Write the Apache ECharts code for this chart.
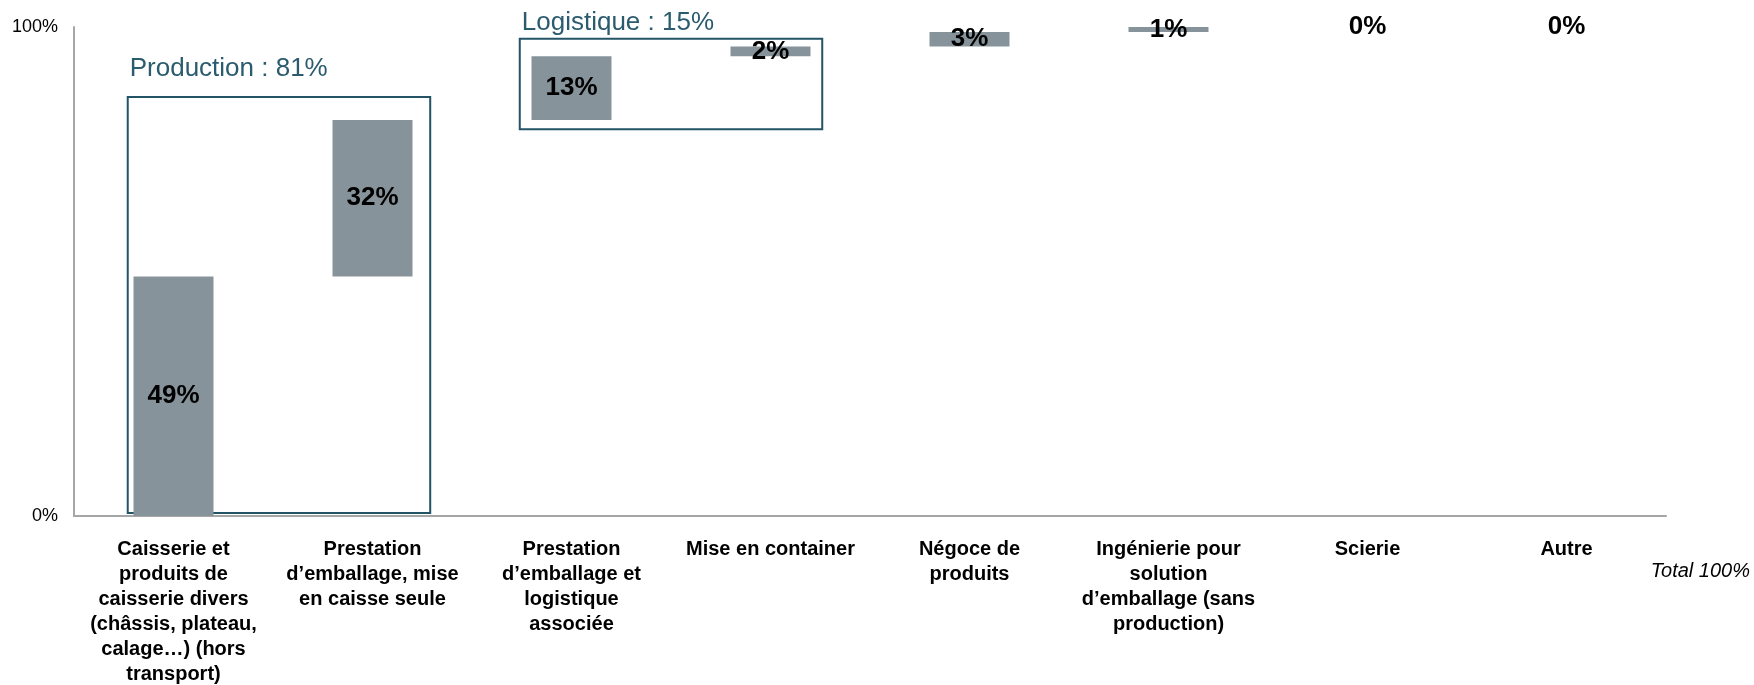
<!DOCTYPE html>
<html>
<head>
<meta charset="utf-8">
<script src="https://cdn.jsdelivr.net/npm/echarts@6/dist/echarts.min.js"></script>
<style>
  html, body { margin: 0; padding: 0; background: #fff; }
  #myChartWaterfall { width: 1754px; height: 685px; }
</style>
</head>
<body>
<div id="myChartWaterfall"></div>
<script>
  // categories (line breaks as in the slide)
  var categories = [
    'Caisserie et\nproduits de\ncaisserie divers\n(châssis, plateau,\ncalage…) (hors\ntransport)',
    'Prestation\nd’emballage, mise\nen caisse seule',
    'Prestation\nd’emballage et\nlogistique\nassociée',
    'Mise en container',
    'Négoce de\nproduits',
    'Ingénierie pour\nsolution\nd’emballage (sans\nproduction)',
    'Scierie',
    'Autre'
  ]
  // share of each activity, in %
  var shares = [49, 32, 13, 2, 3, 1, 0, 0]
  var yTicks = [0, 100]

  // group boxes: category range (index units) and value range
  var groupNames = ['Production : 81%', 'Logistique : 15%']
  var groupFrom = [-0.23, 1.74]
  var groupTo = [1.29, 3.26]
  var groupLow = [0.6, 79.1]
  var groupHigh = [85.7, 97.6]
  var groupTitleAt = [91.5, 100.8]

  var FONT = 'Liberation Sans, Arial, sans-serif'

  // invisible base for the waterfall
  var bases = []
  var acc = 0
  shares.forEach(function (v) {
    bases.push(acc)
    acc += v
  })

  var boxData = groupNames.map(function (n, i) {
    return [groupFrom[i], groupTo[i], groupLow[i], groupHigh[i], groupTitleAt[i], n]
  })

  var myChart = echarts.init(document.getElementById('myChartWaterfall'))
  var option = {
    animation: false,
    textStyle: { fontFamily: FONT },
    grid: {
      left: 74,
      right: 88,
      top: 27,
      bottom: 169,
      containLabel: false,
      outerBoundsMode: 'none'
    },
    xAxis: {
      type: 'category',
      data: categories,
      axisTick: { show: false },
      axisLine: { lineStyle: { color: '#a6a6a6', width: 2 } },
      axisLabel: {
        interval: 0,
        margin: 21,
        color: '#000',
        fontWeight: 'bold',
        fontSize: 20,
        lineHeight: 25,
        fontFamily: FONT
      }
    },
    yAxis: {
      type: 'value',
      min: yTicks[0],
      max: yTicks[yTicks.length - 1],
      interval: 100,
      splitLine: { show: false },
      axisTick: { show: false },
      axisLine: { show: true, lineStyle: { color: '#a6a6a6', width: 2 } },
      axisLabel: {
        formatter: '{value}%',
        color: '#000',
        fontSize: 18,
        margin: 16,
        padding: [4, 0, 0, 0],
        fontFamily: FONT
      }
    },
    series: [
      {
        name: 'base',
        type: 'bar',
        stack: 'total',
        barWidth: 80,
        silent: true,
        itemStyle: { color: 'transparent' },
        data: bases
      },
      {
        name: 'part',
        type: 'bar',
        stack: 'total',
        barWidth: 80,
        itemStyle: { color: '#87939a' },
        label: {
          show: true,
          position: 'inside',
          formatter: '{c}%',
          color: '#000',
          fontWeight: 'bold',
          fontSize: 26,
          fontFamily: FONT
        },
        data: shares
      },
      {
        name: 'groups',
        type: 'custom',
        clip: false,
        silent: true,
        data: boxData,
        renderItem: function (params, api) {
          var band = api.size([1, 0])[0]
          var xAt = function (v) {
            var i = Math.round(v)
            return api.coord([i, 0])[0] + (v - i) * band
          }
          var x0 = xAt(api.value(0))
          var x1 = xAt(api.value(1))
          var yLow = api.coord([0, api.value(2)])[1]
          var yHigh = api.coord([0, api.value(3)])[1]
          var yTitle = api.coord([0, api.value(4)])[1]
          return {
            type: 'group',
            children: [
              {
                type: 'rect',
                shape: { x: x0, y: yHigh, width: x1 - x0, height: yLow - yHigh },
                style: { fill: 'none', stroke: '#225366', lineWidth: 2 }
              },
              {
                type: 'text',
                style: {
                  x: x0 + 2,
                  y: yTitle,
                  text: boxData[params.dataIndex][5],
                  fill: '#2b5b6e',
                  font: '26px ' + FONT,
                  textAlign: 'left',
                  textVerticalAlign: 'middle'
                }
              }
            ]
          }
        }
      }
    ],
    graphic: [
      {
        type: 'text',
        right: 4,
        top: 561,
        style: {
          text: 'Total 100%',
          fill: '#000',
          font: 'italic 20px ' + FONT
        }
      }
    ]
  }
  myChart.setOption(option)
  window.onresize = function () {
    myChart.resize()
  }
</script>
</body>
</html>
